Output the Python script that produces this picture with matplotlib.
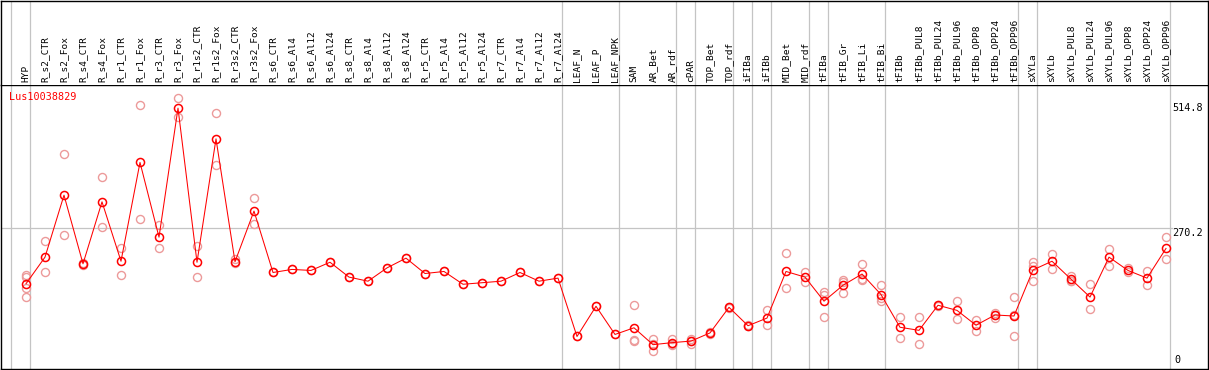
import numpy as np
import matplotlib
matplotlib.use("Agg")
from matplotlib import pyplot as plt

gene = "Lus10038829"

labels = [
    "HYP", "R_s2_CTR", "R_s2_Fox", "R_s4_CTR", "R_s4_Fox", "R_r1_CTR", "R_r1_Fox",
    "R_r3_CTR", "R_r3_Fox", "R_r1s2_CTR", "R_r1s2_Fox", "R_r3s2_CTR", "R_r3s2_Fox",
    "R_s6_CTR", "R_s6_Al4", "R_s6_Al12", "R_s6_Al24", "R_s8_CTR", "R_s8_Al4",
    "R_s8_Al12", "R_s8_Al24", "R_r5_CTR", "R_r5_Al4", "R_r5_Al12", "R_r5_Al24",
    "R_r7_CTR", "R_r7_Al4", "R_r7_Al12", "R_r7_Al24", "LEAF_N", "LEAF_P", "LEAF_NPK",
    "SAM", "AR_Bet", "AR_rdf", "cPAR", "TOP_Bet", "TOP_rdf", "iFIBa", "iFIBb",
    "MID_Bet", "MID_rdf", "tFIBa", "tFIB_Gr", "tFIB_Li", "tFIB_Bi", "tFIBb",
    "tFIBb_PUL8", "tFIBb_PUL24", "tFIBb_PUL96", "tFIBb_OPP8", "tFIBb_OPP24",
    "tFIBb_OPP96", "sXYLa", "sXYLb", "sXYLb_PUL8", "sXYLb_PUL24", "sXYLb_PUL96",
    "sXYLb_OPP8", "sXYLb_OPP24", "sXYLb_OPP96",
]

means = [
    162, 214, 335, 201, 322, 206, 399, 253, 505, 204, 445, 205, 304,
    184, 190, 188, 204, 175, 167, 193, 212, 182, 186, 161, 164,
    167, 184, 167, 173, 59, 118, 63,
    76, 43, 47, 50, 66, 116, 80, 95, 186, 175, 128, 159, 181, 141,
    77, 71, 120, 110, 81, 101, 99,
    189, 206, 171, 136, 214, 188, 173, 231,
]

reps = [
    [180, 175, 153, 137], [246, 184], [415, 257], [203, 199], [370, 272],
    [232, 180], [512, 288], [277, 231], [524, 487], [236, 175], [495, 393],
    [210, 202], [329, 279],
    [184], [190], [188], [204], [175], [167], [193], [212], [182], [186],
    [161], [164], [167], [184], [167], [173], [59], [118], [63],
    [120, 53, 50], [54, 45, 30], [55, 44, 42], [55, 50, 44], [68, 64],
    [117, 115], [81, 79], [111, 81], [222, 153], [184, 166],
    [146, 141, 97], [169, 166, 143], [200, 172, 170], [159, 134, 128],
    [98, 56], [98, 44], [121, 119], [128, 93], [92, 70], [105, 101, 95],
    [136, 101, 60], [204, 196, 167], [220, 191], [178, 168, 167],
    [161, 112], [230, 196], [193, 184], [187, 160], [253, 210],
]

# group separators sit just right of these columns
seps = [-1, 0, 28, 31, 34, 35, 37, 38, 39, 41, 42, 45, 52, 53, 60]

y_ticks = [514.8, 270.2]
grid_val = 270.2

W, H = 1209, 370
fig = plt.figure(figsize=(W / 100, H / 100), dpi=100)
fig.patch.set_facecolor("white")

left, width = 1 / W, 1207 / W
ax = fig.add_axes([left, 1 / H, width, 284 / H])
hax = fig.add_axes([left, 285 / H, width, 84.5 / H], sharex=ax)

x = np.arange(len(labels))
xmin = -25 / 19
ax.set_xlim(xmin, xmin + 1207 / 19)
ax.set_ylim(-4.5, 550.2)
hax.set_ylim(0, 1)

for a in (ax, hax):
    a.set_xticks([])
    a.set_yticks([])
    for s in a.spines.values():
        s.set_linewidth(1.0)
        s.set_color("black")
    for s in seps:
        a.axvline(s + 0.23, color="#c4c4c4", lw=0.9, zorder=0)
hax.spines["bottom"].set_visible(False)

ax.axhline(grid_val, xmax=(1172 - 1) / 1207, color="#c4c4c4", lw=0.9, zorder=0)

# replicates
rx = np.concatenate([[i] * len(r) for i, r in enumerate(reps)])
ry = np.concatenate(reps)
ax.plot(rx, ry, "o", ls="none", ms=5.8, mfc="none", mec="#ec9a9a", mew=1.0, zorder=2)

# means
ax.plot(x, means, "-", color="red", lw=0.75, zorder=3)
ax.plot(x, means, "o", ls="none", ms=5.8, mfc="none", mec="red", mew=1.1, zorder=4)

mono = "DejaVu Sans Mono"
for i, lab in enumerate(labels):
    hax.text(i, 3 / 84.5, lab, rotation=90, ha="center", va="bottom",
             fontsize=6.8, family=mono, color="black")

ax.text(8 / 1207, 1 - 12 / 284, gene, transform=ax.transAxes, color="red",
        fontsize=7.3, family=mono, va="center", ha="left")

xt = (1172 - 1) / 1207
for v in y_ticks:
    ax.text(xt, v, f"{v:g}", transform=ax.get_yaxis_transform(), fontsize=7.3,
            family=mono, va="top", ha="left")
ax.text(xt + 2 / 1207, 4 / 284, "0", transform=ax.transAxes, fontsize=7.3,
        family=mono, va="bottom", ha="left")

fig.savefig("out.png", dpi=100)
